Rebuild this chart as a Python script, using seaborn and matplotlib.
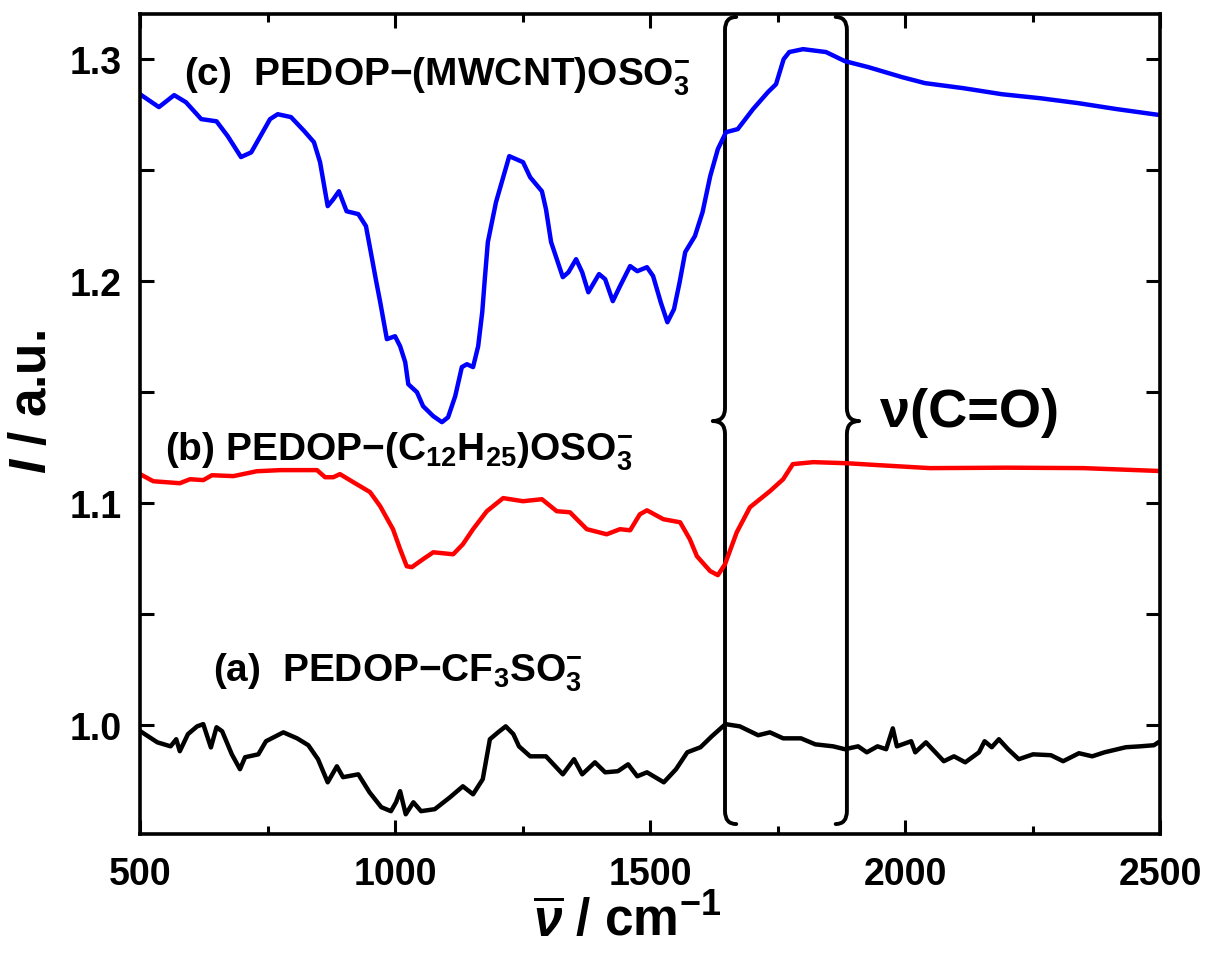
import numpy as np
import pandas as pd
import matplotlib
matplotlib.use("Agg")
import matplotlib.pyplot as plt
from matplotlib.path import Path
from matplotlib.patches import PathPatch
from matplotlib.ticker import MultipleLocator, FormatStrFormatter
import seaborn as sns

# %% Data
# (a) PEDOP-CF3SO3-
wn_a = [500, 534, 560, 571, 578, 594, 612, 624, 639, 650, 661, 680, 696, 706, 732, 747,
        781, 808, 830, 849, 868, 886, 898, 928, 950, 973, 992, 1002, 1010, 1021, 1036,
        1051, 1078, 1108, 1133, 1153, 1172, 1186, 1202, 1217, 1232, 1243, 1265, 1296,
        1329, 1351, 1367, 1392, 1412, 1437, 1457, 1475, 1494, 1527, 1551, 1573, 1599,
        1621, 1641, 1648, 1676, 1712, 1735, 1761, 1796, 1824, 1859, 1882, 1908, 1925,
        1946, 1963, 1976, 1984, 2012, 2020, 2041, 2076, 2096, 2118, 2145, 2156, 2170,
        2184, 2202, 2223, 2251, 2286, 2310, 2341, 2367, 2391, 2433, 2461, 2488, 2500]
int_a = [0.9974, 0.9923, 0.9905, 0.9937, 0.9883, 0.9960, 0.9995, 1.0005, 0.9900, 0.9991,
         0.9973, 0.9869, 0.9802, 0.9856, 0.9869, 0.9928, 0.9968, 0.9941, 0.9910, 0.9847,
         0.9743, 0.9815, 0.9766, 0.9779, 0.9698, 0.9631, 0.9613, 0.9653, 0.9703, 0.9599,
         0.9653, 0.9613, 0.9622, 0.9676, 0.9725, 0.9689, 0.9757, 0.9937, 0.9968, 0.9995,
         0.9960, 0.9905, 0.9860, 0.9860, 0.9779, 0.9847, 0.9779, 0.9833, 0.9788, 0.9793,
         0.9824, 0.9770, 0.9788, 0.9743, 0.9802, 0.9878, 0.9901, 0.9950, 0.9991, 1.0005,
         0.9995, 0.9955, 0.9968, 0.9941, 0.9941, 0.9914, 0.9905, 0.9892, 0.9905, 0.9878,
         0.9905, 0.9892, 0.9986, 0.9905, 0.9928, 0.9878, 0.9923, 0.9838, 0.9860, 0.9833,
         0.9878, 0.9928, 0.9901, 0.9937, 0.9892, 0.9847, 0.9869, 0.9865, 0.9838, 0.9874,
         0.9860, 0.9878, 0.9901, 0.9905, 0.9910, 0.9928]

# (b) PEDOP-(C12H25)OSO3-
wn_b = [500, 526, 578, 598, 624, 641, 683, 729, 775, 847, 863, 879, 892, 918, 951, 971,
        996, 1010, 1023, 1033, 1055, 1075, 1114, 1133, 1153, 1180, 1212, 1251, 1288, 1317,
        1343, 1376, 1415, 1441, 1461, 1480, 1494, 1526, 1559, 1578, 1592, 1618, 1633, 1647,
        1670, 1696, 1735, 1761, 1780, 1820, 1886, 1951, 2049, 2200, 2350, 2500]
int_b = [1.1131, 1.1099, 1.1090, 1.1108, 1.1104, 1.1126, 1.1122, 1.1144, 1.1149, 1.1149,
         1.1117, 1.1117, 1.1131, 1.1095, 1.1050, 1.0986, 1.0883, 1.0793, 1.0716, 1.0712,
         1.0748, 1.0779, 1.0770, 1.0815, 1.0883, 1.0964, 1.1023, 1.1009, 1.1018, 1.0964,
         1.0959, 1.0883, 1.0860, 1.0883, 1.0878, 1.0950, 1.0968, 1.0928, 1.0914, 1.0838,
         1.0761, 1.0694, 1.0676, 1.0725, 1.0869, 1.0982, 1.1054, 1.1108, 1.1176, 1.1185,
         1.1180, 1.1171, 1.1158, 1.1160, 1.1158, 1.1145]

# (c) PEDOP-(MWCNT)OSO3-
wn_c = [500, 537, 567, 590, 620, 650, 672, 698, 718, 755, 770, 796, 822, 841, 853, 868,
        879, 890, 905, 928, 943, 955, 963, 971, 984, 1000, 1010, 1020, 1026, 1043, 1055,
        1075, 1092, 1104, 1118, 1131, 1141, 1153, 1163, 1171, 1176, 1182, 1198, 1224, 1251,
        1265, 1288, 1296, 1306, 1329, 1340, 1355, 1367, 1379, 1400, 1412, 1427, 1441, 1461,
        1475, 1494, 1506, 1521, 1534, 1547, 1558, 1569, 1588, 1603, 1618, 1633, 1649, 1672,
        1702, 1731, 1747, 1762, 1773, 1800, 1845, 1882, 1928, 1994, 2039, 2115, 2190, 2265,
        2339, 2415, 2500]
int_c = [1.2842, 1.2784, 1.2838, 1.2806, 1.2730, 1.2720, 1.2653, 1.2559, 1.2580, 1.2730,
         1.2752, 1.2739, 1.2676, 1.2626, 1.2536, 1.2338, 1.2369, 1.2405, 1.2315, 1.2302,
         1.2248, 1.2100, 1.2000, 1.1905, 1.1739, 1.1752, 1.1707, 1.1635, 1.1536, 1.1500,
         1.1437, 1.1392, 1.1365, 1.1387, 1.1482, 1.1613, 1.1626, 1.1613, 1.1707, 1.1860,
         1.2009, 1.2176, 1.2356, 1.2563, 1.2536, 1.2468, 1.2405, 1.2324, 1.2176, 1.2018,
         1.2040, 1.2099, 1.2040, 1.1950, 1.2032, 1.2009, 1.1910, 1.1977, 1.2068, 1.2045,
         1.2063, 1.2023, 1.1905, 1.1815, 1.1874, 1.1995, 1.2131, 1.2203, 1.2311, 1.2473,
         1.2595, 1.2671, 1.2685, 1.2775, 1.2851, 1.2887, 1.3000, 1.3032, 1.3045, 1.3032,
         1.2991, 1.2964, 1.2919, 1.2892, 1.2869, 1.2842, 1.2824, 1.2802, 1.2775, 1.2748]

films = ["a", "b", "c"]
film_colors = {"a": "black", "b": "#ff0000", "c": "#0000ff"}
film_labels = ["(a)  PEDOP\u2212CF$_3$SO$_3^{-}$",
               "(b) PEDOP\u2212(C$_{12}$H$_{25}$)OSO$_3^{-}$",
               "(c)  PEDOP\u2212(MWCNT)OSO$_3^{-}$"]
label_x = [643, 549, 586]
label_y = [1.0200, 1.1198, 1.2887]

# carbonyl band marked with braces
band_lo, band_hi = 1647, 1886
brace_top, brace_mid, brace_bot = 1.319, 1.137, 0.9555
band_text = "\u03bd(C=O)"

# %% Style
sns.set_theme(style="ticks", rc={"axes.edgecolor": "black", "axes.linewidth": 2.6,
                                 "xtick.color": "black", "ytick.color": "black",
                                 "text.color": "black", "axes.labelcolor": "black"})
plt.rcParams["font.family"] = ["Liberation Sans", "DejaVu Sans"]
plt.rcParams["font.weight"] = "bold"
plt.rcParams["mathtext.fontset"] = "custom"
plt.rcParams["mathtext.rm"] = "Liberation Sans:bold"
plt.rcParams["mathtext.bf"] = "Liberation Sans:bold"
plt.rcParams["mathtext.it"] = "Liberation Sans:italic:bold"

df = pd.concat([
    pd.DataFrame({"wn": wn_a, "I": int_a, "film": "a"}),
    pd.DataFrame({"wn": wn_b, "I": int_b, "film": "b"}),
    pd.DataFrame({"wn": wn_c, "I": int_c, "film": "c"}),
], ignore_index=True)

fig = plt.figure(figsize=(12.06, 9.54), dpi=100)
ax = fig.add_axes([0.1161, 0.1247, 0.8458, 0.8595])

sns.lineplot(data=df, x="wn", y="I", hue="film", palette=film_colors,
             estimator=None, sort=False, legend=False, lw=3.2,
             solid_joinstyle="round", solid_capstyle="round", ax=ax)

for x, y, t in zip(label_x, label_y, film_labels):
    ax.text(x, y, t, fontsize=28, fontweight="bold", va="baseline", ha="left", color="black")


def brace(ax, x0, y_bot, y_top, y_mid, side):
    # side=+1 -> "{" , side=-1 -> "}"
    w, d, r = 22, 24, 0.0058
    verts = [(x0 + side * w, y_top), (x0, y_top), (x0, y_top - r),
             (x0, y_mid + r), (x0, y_mid), (x0 - side * d, y_mid),
             (x0, y_mid), (x0, y_mid - r),
             (x0, y_bot + r), (x0, y_bot), (x0 + side * w, y_bot)]
    codes = [Path.MOVETO, Path.CURVE3, Path.CURVE3, Path.LINETO, Path.CURVE3, Path.CURVE3,
             Path.CURVE3, Path.CURVE3, Path.LINETO, Path.CURVE3, Path.CURVE3]
    ax.add_patch(PathPatch(Path(verts, codes), fill=False, lw=2.8, ec="black",
                           capstyle="round", joinstyle="round", clip_on=False))


brace(ax, band_lo, brace_bot, brace_top, brace_mid, 1)
brace(ax, band_hi, brace_bot, brace_top, brace_mid, -1)
ax.text(1951, 1.141, band_text, fontsize=39, fontweight="bold", va="center", ha="left",
        color="black")

# %% Axes
ax.set_xlim(500, 2500)
ax.set_ylim(0.951, 1.3203)
ax.xaxis.set_major_locator(MultipleLocator(500))
ax.xaxis.set_minor_locator(MultipleLocator(250))
ax.yaxis.set_major_locator(MultipleLocator(0.1))
ax.yaxis.set_minor_locator(MultipleLocator(0.05))
ax.yaxis.set_major_formatter(FormatStrFormatter("%.1f"))
ax.tick_params(which="both", direction="in", top=True, right=True, width=2.2, labelsize=27,
               labelcolor="black")
ax.tick_params(axis="x", which="major", length=10, pad=16)
ax.tick_params(axis="x", which="minor", length=5.5)
ax.tick_params(axis="y", which="both", length=10, pad=13)
for s in ax.spines.values():
    s.set_linewidth(2.6)

ax.set_xlabel("")
ax.set_ylabel("")
ax.text(-0.105, 0.528, r"$I$ / a.u.", rotation=90, transform=ax.transAxes,
        ha="center", va="center", fontsize=37, fontweight="bold", color="black")
ax.text(0.477, -0.106, r"$\overline{\nu}$ / cm$^{-1}$", transform=ax.transAxes,
        ha="center", va="center", fontsize=37, fontweight="bold", color="black")

fig.savefig("out.png", dpi=100)
